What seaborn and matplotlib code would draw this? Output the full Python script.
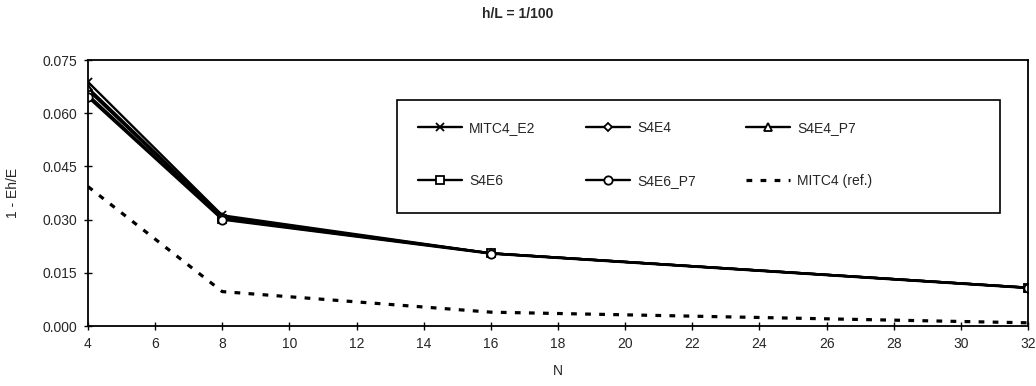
import matplotlib
matplotlib.use("Agg")
import matplotlib.pyplot as plt
from matplotlib.patches import Rectangle
import seaborn as sns
import pandas as pd

N = [4, 8, 16, 32]
mitc4_e2 = [0.0688, 0.0312, 0.0205, 0.0108]
s4e4 = [0.0665, 0.0305, 0.0205, 0.0108]
s4e4_p7 = [0.0672, 0.0308, 0.0205, 0.0108]
s4e6 = [0.0652, 0.0302, 0.0205, 0.0108]
s4e6_p7 = [0.0645, 0.0300, 0.0204, 0.0107]
mitc4_ref = [0.0393, 0.0097, 0.0039, 0.0009]

series = [
    ("MITC4_E2", mitc4_e2, "x", "-"),
    ("S4E4", s4e4, "D", "-"),
    ("S4E4_P7", s4e4_p7, "^", "-"),
    ("S4E6", s4e6, "s", "-"),
    ("S4E6_P7", s4e6_p7, "o", "-"),
    ("MITC4 (ref.)", mitc4_ref, None, (0, (1.8, 2.6))),
]

sns.set_style("white")
plt.rcParams["font.family"] = ["Liberation Sans", "DejaVu Sans"]

fig = plt.figure(figsize=(10.36, 3.86), dpi=100)
ax = fig.add_axes([88 / 1036, 1 - 326 / 386, (1028 - 88) / 1036, (326 - 60) / 386])

FS = 10
for name, vals, mk, ls in series:
    df = pd.DataFrame({"N": N, "v": vals})
    if mk is None:
        kw = dict(linewidth=2.3)
    else:
        kw = dict(linewidth=1.7, marker=mk, markersize=6 if mk != "D" else 4.5,
                  markerfacecolor="white" if mk != "x" else "black",
                  markeredgecolor="black", markeredgewidth=1.3)
    sns.lineplot(data=df, x="N", y="v", ax=ax, color="black",
                 linestyle=ls, label=name, **kw)

ax.set_xlim(4, 32)
ax.set_ylim(0, 0.075)
ax.set_xticks(range(4, 33, 2))
yt = [0, 0.015, 0.030, 0.045, 0.060, 0.075]
ax.set_yticks(yt)
ax.set_yticklabels([f"{v:.3f}" for v in yt])
ax.tick_params(axis="both", direction="inout", length=6, width=1, color="black",
               labelsize=FS, left=True, bottom=True, pad=5)
for s in ax.spines.values():
    s.set_color("black")
    s.set_linewidth(1.3)

ax.set_xlabel("N", fontsize=FS, labelpad=9)
ax.set_ylabel("1 - Eh/E", fontsize=FS, labelpad=16)
fig.text(0.5, 1 - 14 / 386, "h/L = 1/100", ha="center", va="center",
         fontsize=FS, fontweight="bold")

# legend frame box (drawn separately to match width)
bx0, bx1, by0, by1 = 397, 1000, 100, 213
ax.add_patch(Rectangle(((bx0 - 88) / 940, (326 - by1) / 266), (bx1 - bx0) / 940,
                       (by1 - by0) / 266, transform=ax.transAxes, facecolor="white",
                       edgecolor="black", linewidth=1.2, zorder=4))

h, l = ax.get_legend_handles_labels()
order = [0, 3, 1, 4, 2, 5]
leg = ax.legend([h[i] for i in order], [l[i] for i in order], ncol=3,
                loc="upper left",
                bbox_to_anchor=((397 - 88) / 940, (326 - 100) / 266),
                frameon=False, fontsize=FS,
                borderaxespad=0, handlelength=3.2, labelspacing=2.8, borderpad=1.5,
                handletextpad=0.5, columnspacing=3.6)
leg.set_zorder(5)

fig.savefig("out.png", dpi=100, facecolor="white")
